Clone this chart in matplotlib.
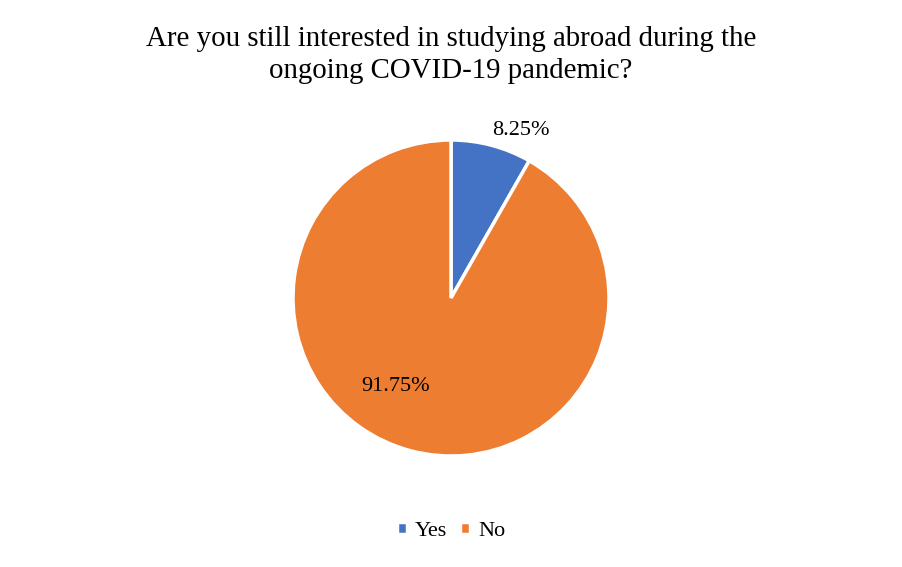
import matplotlib.pyplot as plt

labels = ['Yes', 'No']
values = [8.25, 91.75]
colors = ['#4472C4', '#ED7D31']
title = 'Are you still interested in studying abroad during the\nongoing COVID-19 pandemic?'

plt.rcParams['font.family'] = ['Liberation Serif', 'DejaVu Serif']

W, H = 903, 567
fig = plt.figure(figsize=(W / 100, H / 100), dpi=100)

cx, cy, r = 451, 298, 158
ax = fig.add_axes([(cx - r) / W, (H - cy - r) / H, 2 * r / W, 2 * r / H])

wedges, texts, autotexts = ax.pie(values, colors=colors, startangle=90, counterclock=False,
                                  autopct='%.2f%%', wedgeprops=dict(edgecolor='white', linewidth=2.5),
                                  textprops=dict(fontsize=16, color='black'))
ax.set_xlim(-1, 1)
ax.set_ylim(-1, 1)
ax.set_aspect('equal')

# label spots as in the reference
autotexts[0].set_position((0.44, 1.06))
autotexts[1].set_position((-0.35, -0.56))

fig.text(cx / W, 1 - 26 / H, title, ha='center', va='top', fontsize=20.8, linespacing=1.3)

fig.legend(wedges, labels, loc='center', bbox_to_anchor=(cx / W, 1 - 531 / H), ncol=2,
           frameon=False, fontsize=16, handlelength=0.45, handleheight=0.45,
           handletextpad=0.35, columnspacing=0.6)

fig.savefig('out.png', dpi=100)
